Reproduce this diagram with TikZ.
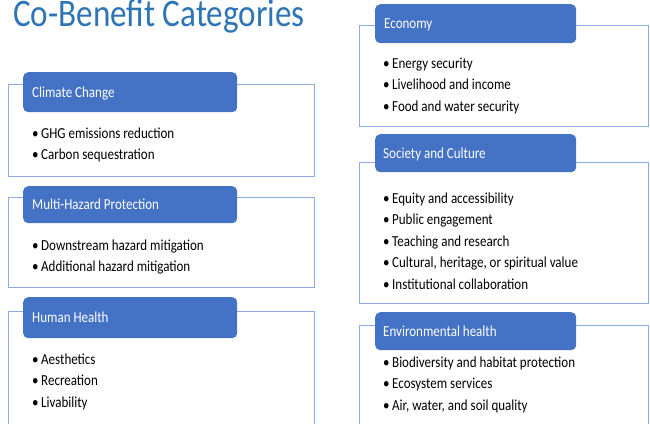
\documentclass[tikz,border=0pt]{standalone}
\usepackage{fontspec}
\setmainfont{Carlito}[FakeStretch=0.85]
\usetikzlibrary{positioning}
\definecolor{headfill}{HTML}{4472C4}
\definecolor{boxline}{HTML}{8FAADC}
\definecolor{titleblue}{HTML}{2E75B6}
\tikzstyle{every catbox} = []
\tikzstyle{catbox} = [draw=boxline, line width=1pt, anchor=north west, inner sep=0pt, every catbox]
\tikzstyle{cathead} = [fill=headfill, rounded corners=5pt, anchor=north west, inner sep=0pt]
\tikzstyle{headtext} = [text=white, inner sep=0pt, text height=10pt, text depth=0pt, font=\fontsize{15.3}{18}\selectfont]
\tikzstyle{item} = [anchor=base west, inner sep=0pt, font=\fontsize{15.3}{18}\selectfont]
\newcommand{\bul}{\makebox[9pt][l]{\textbullet}}

\begin{document}
\begin{tikzpicture}[x=1pt, y=1pt]
    \clip (0,0) rectangle (650,-423);
    \node[anchor=base west, inner sep=0pt, text=titleblue, font=\fontsize{39}{44}\selectfont] (title) at (13,-26) {Co-Benefit Categories};

    % left column
    \node[catbox, minimum width=306pt, minimum height=92pt] (climatebox) at (8,-84) {};
    \node[cathead, minimum width=214pt, minimum height=40pt] (climate) at (23,-72) {};
    \node[headtext, right=9pt of climate.west] {Climate Change};
    \foreach \txt [count=\i] in {GHG emissions reduction, Carbon sequestration}
        \node[item] at (32,{-138-21.7*(\i-1)}) {\bul\txt};

    \node[catbox, minimum width=306pt, minimum height=90pt] (hazardbox) at (8,-197) {};
    \node[cathead, minimum width=214pt, minimum height=37pt] (hazard) at (23,-186) {};
    \node[headtext, right=9pt of hazard.west] {Multi-Hazard Protection};
    \foreach \txt [count=\i] in {Downstream hazard mitigation, Additional hazard mitigation}
        \node[item] at (32,{-250-21.7*(\i-1)}) {\bul\txt};

    \node[catbox, minimum width=306pt, minimum height=125pt] (healthbox) at (8,-311) {};
    \node[cathead, minimum width=214pt, minimum height=41pt] (health) at (23,-297) {};
    \node[headtext, right=9pt of health.west] {Human Health};
    \foreach \txt [count=\i] in {Aesthetics, Recreation, Livability}
        \node[item] at (32,{-364-21.9*(\i-1)}) {\bul\txt};

    % right column
    \node[catbox, minimum width=289pt, minimum height=101pt] (economybox) at (359,-25) {};
    \node[cathead, minimum width=201pt, minimum height=39pt] (economy) at (375,-4) {};
    \node[headtext, right=9pt of economy.west] {Economy};
    \foreach \txt [count=\i] in {Energy security, Livelihood and income, Food and water security}
        \node[item] at (383,{-68-21.5*(\i-1)}) {\bul\txt};

    \node[catbox, minimum width=289pt, minimum height=141pt] (societybox) at (359,-162) {};
    \node[cathead, minimum width=201pt, minimum height=38pt] (society) at (375,-134) {};
    \node[headtext, right=8pt of society.west] {Society and Culture};
    \foreach \txt [count=\i] in {Equity and accessibility, Public engagement, Teaching and research, {Cultural, heritage, or spiritual value}, Institutional collaboration}
        \node[item] at (383,{-203-21.5*(\i-1)}) {\bul\txt};

    \node[catbox, minimum width=289pt, minimum height=111pt] (envhealthbox) at (359,-325) {};
    \node[cathead, minimum width=201pt, minimum height=38pt] (envhealth) at (375,-312) {};
    \node[headtext, right=8pt of envhealth.west] {Environmental health};
    \foreach \txt [count=\i] in {Biodiversity and habitat protection, Ecosystem services, {Air, water, and soil quality}}
        \node[item] at (383,{-367-21.5*(\i-1)}) {\bul\txt};
\end{tikzpicture}
\end{document}
